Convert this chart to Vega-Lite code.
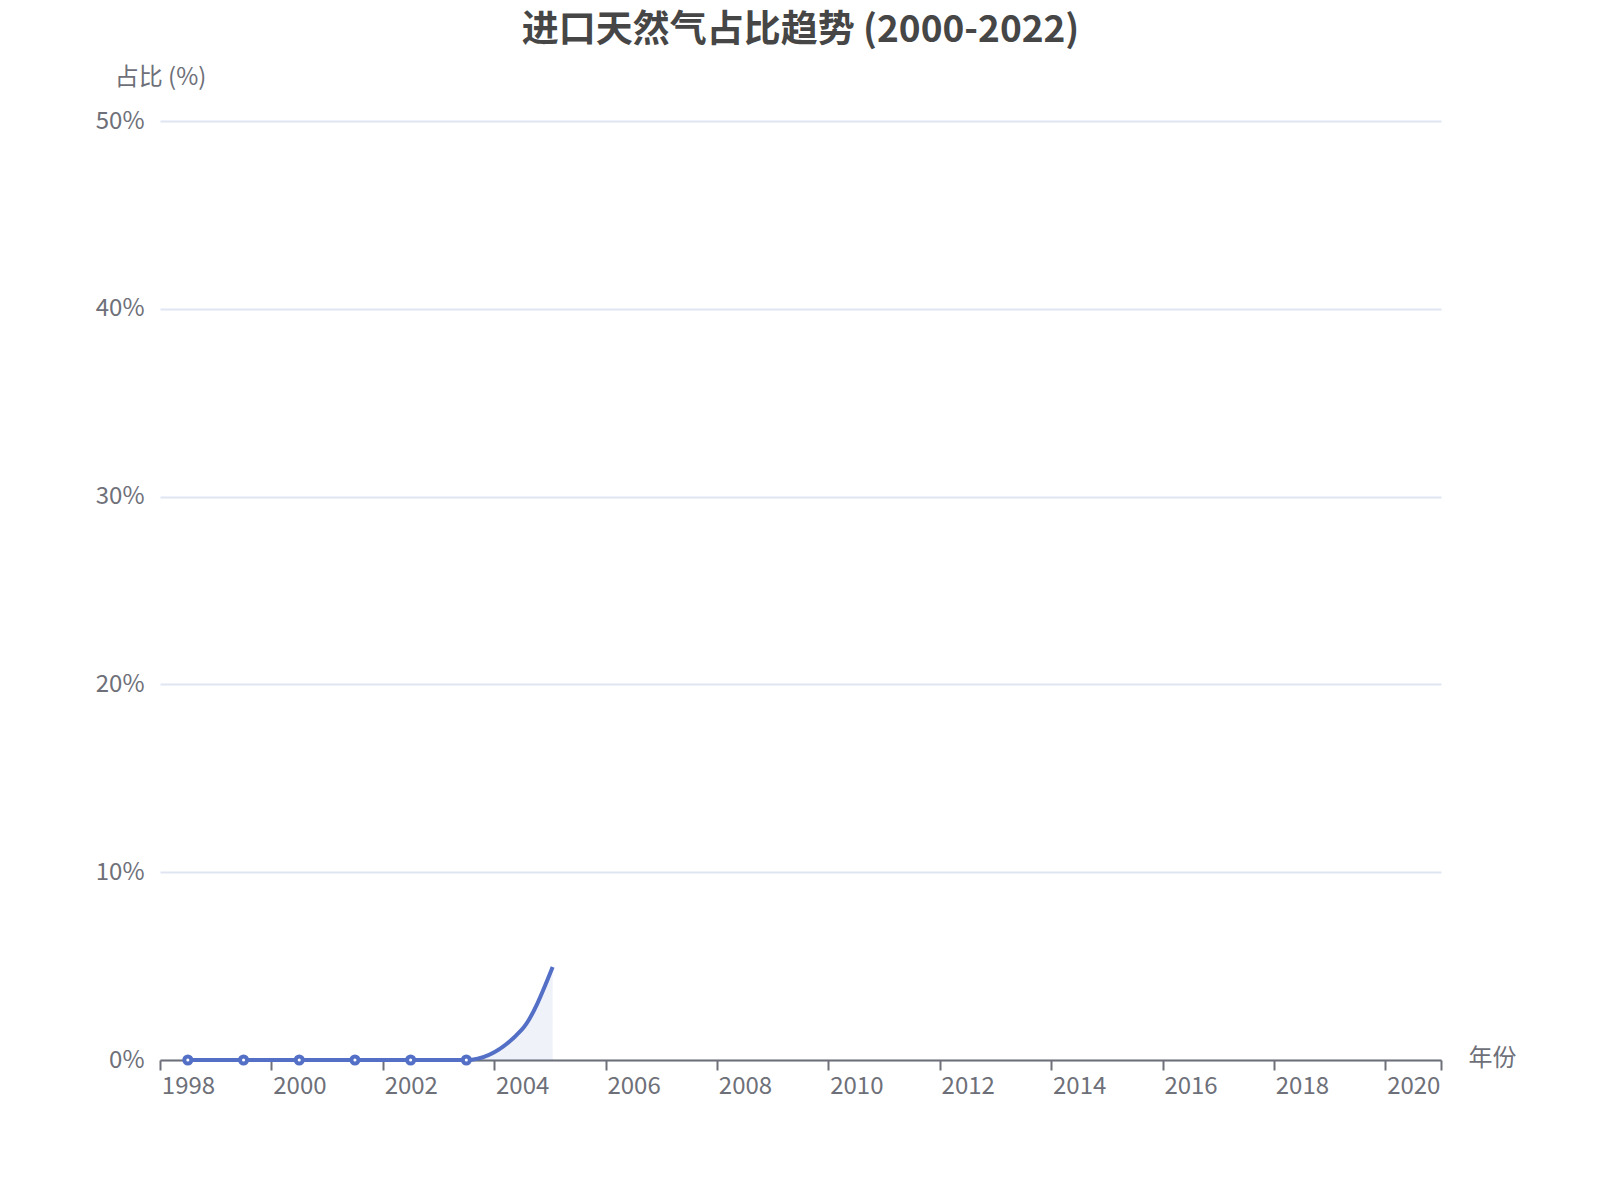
{
  "$schema": "https://vega.github.io/schema/vega-lite/v6.json",
  "autosize": {"type": "none"},
  "width": 1281,
  "height": 939,
  "padding": {"left": 160, "top": 121, "right": 159, "bottom": 140},
  "background": "white",
  "title": {
    "text": "进口天然气占比趋势 (2000-2022)",
    "anchor": "middle",
    "frame": "group",
    "font": "Noto Sans CJK SC",
    "fontSize": 37,
    "fontWeight": "bold",
    "color": "#464646",
    "offset": 15
  },
  "config": {
    "view": {"stroke": null},
    "font": "Noto Sans CJK SC"
  },
  "data": {
    "values": [
      {"year": 1998, "share": 0},
      {"year": 1999, "share": 0},
      {"year": 2000, "share": 0},
      {"year": 2001, "share": 0},
      {"year": 2002, "share": 0},
      {"year": 2003, "share": 0},
      {"year": 2004, "share": 1.63},
      {"year": 2004.55, "share": 4.95}
    ]
  },
  "encoding": {
    "x": {
      "field": "year",
      "type": "quantitative",
      "scale": {"domain": [1997.5, 2020.5], "nice": false, "zero": false},
      "axis": {
        "title": "年份",
        "titleX": 1332,
        "titleY": -2,
        "titleAlign": "center",
        "titleBaseline": "middle",
        "titleFontSize": 24,
        "titleFontWeight": "normal",
        "titleColor": "#6E7079",
        "values": [1997.5, 1999.5, 2001.5, 2003.5, 2005.5, 2007.5, 2009.5, 2011.5, 2013.5, 2015.5, 2017.5, 2019.5, 2020.5],
        "labelExpr": "datum.value > 2020 ? '' : toString(datum.value + 0.5)",
        "labelOffset": 28,
        "labelFontSize": 24,
        "labelColor": "#6E7079",
        "labelPadding": 4,
        "labelFlush": false,
        "labelOverlap": false,
        "tickColor": "#6E7079",
        "tickSize": 10,
        "tickWidth": 2,
        "domainColor": "#6E7079",
        "domainWidth": 2,
        "grid": false
      }
    },
    "y": {
      "field": "share",
      "type": "quantitative",
      "scale": {"domain": [0, 50], "nice": false},
      "axis": {
        "title": "占比 (%)",
        "titleAngle": 0,
        "titleX": 0,
        "titleY": -44,
        "titleAlign": "center",
        "titleBaseline": "middle",
        "titleFontSize": 24,
        "titleFontWeight": "normal",
        "titleColor": "#6E7079",
        "values": [0, 10, 20, 30, 40, 50],
        "labelExpr": "datum.value + '%'",
        "labelFontSize": 24,
        "labelColor": "#6E7079",
        "labelPadding": 16,
        "ticks": false,
        "domain": false,
        "grid": true,
        "gridColor": "#E0E6F1",
        "gridWidth": 2
      }
    }
  },
  "layer": [
    {
      "mark": {"type": "area", "interpolate": "monotone", "color": "#5470C6", "opacity": 0.09}
    },
    {
      "mark": {"type": "line", "interpolate": "monotone", "color": "#5470C6", "strokeWidth": 4}
    },
    {
      "transform": [{"filter": "datum.year <= 2003"}],
      "mark": {"type": "point", "shape": "circle", "filled": true, "fill": "white", "stroke": "#5470C6", "strokeWidth": 4, "size": 50, "opacity": 1}
    }
  ]
}
